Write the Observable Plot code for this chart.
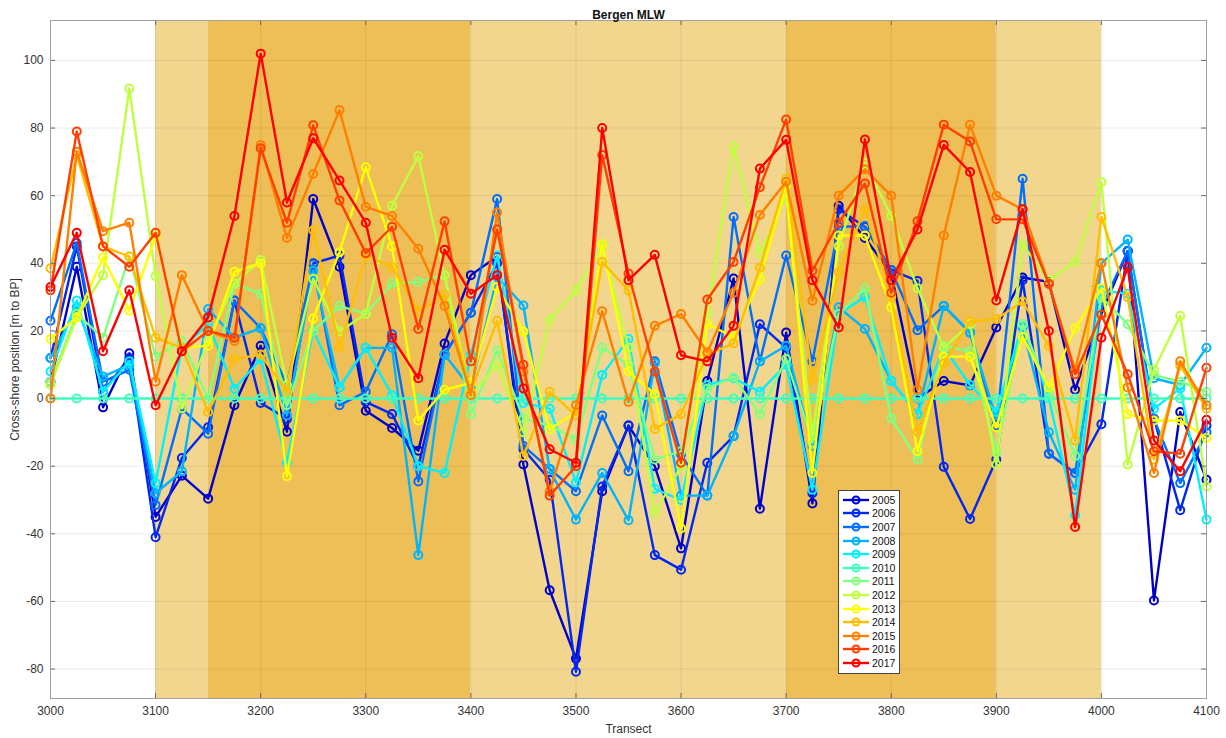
<!DOCTYPE html>
<html><head><meta charset="utf-8">
<script src="https://cdn.jsdelivr.net/npm/d3@7"></script>
<script src="https://cdn.jsdelivr.net/npm/@observablehq/plot@0.6"></script>
<style>
body{margin:0;background:#fff;font-family:"Liberation Sans",Arial,sans-serif;}
#wrap{position:relative;width:1226px;height:738px;}
#legend{position:absolute;left:838px;top:490px;width:62px;height:184px;background:#fff;border:1px solid #444;box-sizing:border-box;padding-top:2px;}
#legend .row{display:flex;align-items:center;height:13.6px;font-size:10.5px;color:#111;}
#legend svg{margin-left:3px;margin-right:2px;}
</style></head><body><div id="wrap"></div>
<script>
const transects = [3000,3025,3050,3075,3100,3125,3150,3175,3200,3225,3250,3275,3300,3325,3350,3375,3400,3425,3450,3475,3500,3525,3550,3575,3600,3625,3650,3675,3700,3725,3750,3775,3800,3825,3850,3875,3900,3925,3950,3975,4000,4025,4050,4075,4100];
const years = ["2005","2006","2007","2008","2009","2010","2011","2012","2013","2014","2015","2016","2017"];
const colors = ["rgb(0,0,205)","rgb(0,40,240)","rgb(0,110,255)","rgb(0,180,255)","rgb(0,240,255)","rgb(64,255,190)","rgb(128,255,128)","rgb(190,255,64)","rgb(255,255,0)","rgb(255,191,0)","rgb(255,128,0)","rgb(255,64,0)","rgb(255,0,0)"];

const y2005 = [5,39,-2.6,13.4,-35,-22.8,-29.6,-2,15.6,-9.8,59,39,-3.6,-8.7,-15.4,16.3,36.5,42,-19.5,-56.7,-76.9,-27.4,-8,-20,-44.3,5.2,35.5,-32.6,19.5,-31,57,47.5,37,0,5.2,3.9,21,35.8,34.5,2.6,25,43.6,-59.7,-4,-24];
const y2006 = [12,45,2,12,-41,-17.6,-8.5,29,-1.3,-6,40,42.3,-1,-4.6,-20,13,25.4,40,-15,-24,-80.8,-26,-8,-46.3,-50.6,-19,-11.1,22,15,-28,56,50.8,38,34.8,-20.2,-35.6,-18,35,-16.3,-22,-7.6,43.6,-6,-33,-8];
const y2007 = [23,46,5,8.5,-31.5,-3,-10.4,28.9,20.8,4,39.7,-2,2,19,-24.5,13,25.4,59,-14,-20.8,-27.4,-5,-21.5,11,-16.5,-28.7,53.7,11,42.3,11,50.8,51,38,20.2,27.4,19.5,-8,65,-16.3,-22,27,43.6,-6,-25,-10];
const y2008 = [12,27,6.5,10,-28,-21.5,26.5,18,20.8,-5,37.8,3.3,15,15,-46.3,13,3,36,27.5,-21,-35.8,-22,-36,10.5,-28.7,-28.7,-11.1,11,15.6,-14,27,20.6,5.2,-4.6,27.4,19.5,-6,21,-10,-27,40,47,6,4,15];
const y2009 = [8,29,2,11,-25,15,22,2.9,11.7,-19,20.2,3.3,15,1,-20,-22,13,42.3,-1.3,-3,-24.8,7,17.6,-26.7,-30,4,6,2,10,-27,25,30,5.2,-4.6,15,4,-4,22,0,-34.5,32,31,-3,3,-35.8];
const y2010 = [0,0,0,0,0,0,0,0,0,0,0,0,0,0,0,0,0,0,0,0,0,0,0,0,0,0,0,0,0,0,0,0,0,0,0,0,0,0,0,0,0,0,0,0,0];
const y2011 = [5,25,18,42,12.4,17,0,33.9,31,-2,20,27.4,25,34,34.5,36.5,-4.6,14.3,-5.9,-8,-12,15,10,-18,-15.6,3,6.3,-4.6,11.7,-13,25,32.6,-5.9,-18,15.6,14,-16,22,2,-17,30,22,7,5,2];
const y2012 = [4,24,36.5,91.7,36.2,-2.9,17,34,41,4,35.4,19.8,25,57,71.7,36.5,1,10,-10,23.3,32,45,15,-34,-20,25,74.5,43,60,-11,45,69.7,54,32.6,15,22,-19.5,45.6,35,40.4,64,-19.5,8.5,24.5,-26];
const y2013 = [17.6,24,41.7,26,48,15,15.6,37.5,40,-23,23.7,43.3,68.4,45,-6.5,2.6,4.6,33,19.8,-9.1,-4,45.6,8,1.3,-38.4,22,18.2,35.2,63,-22,48.2,48.2,27,-15.6,12.4,12.4,-8.5,18.2,3.3,20.8,32.6,-4.6,-6.5,-6.5,-11.7];
const y2014 = [38.5,72,45,42,18,15,-4,11.7,13,2,49.8,15,42.3,39,25.8,30.6,2,23,-17,2,-5,40.4,32,-9,-4.6,13,16.3,38.7,65,5.5,37.4,56,30,-9.8,10.4,22.8,23.5,28.7,15.6,-12.4,53.7,30,-18,9.8,-3];
const y2015 = [0,73,49.5,52,5,36.5,20,17,75,47.5,66.4,85.3,56.7,54,44.3,27.4,1,55,8,-27.4,-2,25.8,-1,21.5,25,13.7,31.3,54.3,64.1,28.9,60,67.8,60,2.6,48.2,81,60,56,34,8.5,40,3.3,-22,11,-2];
const y2016 = [32,79,45,39,49,14,20,18,74,52,80.8,58.6,43,50.8,20.6,52.4,11,50,10,-28.7,-20,72,37,8,-19,29.3,40.4,62.5,82.5,37.8,52,63.6,31.3,52.4,81,76,53,53,33.9,7.2,24.8,7.2,-15.6,-16.3,9.1];
const y2017 = [33,49,14,32,-2,14,24,54,102,58,77,64.5,52,18,6,44,31,36.5,3,-15,-19,80,35,42.5,12.8,11,21.5,68,76.5,35,21,76.6,35,50,75,67,29,56,20,-38,18,38.8,-12.4,-21.5,-6.3];
const seriesValues = [y2005,y2006,y2007,y2008,y2009,y2010,y2011,y2012,y2013,y2014,y2015,y2016,y2017];

const bandStart = [3100,3150,3400,3700,3900];
const bandEnd   = [3150,3400,3700,3900,4000];
const bandShade = ["light","dark","light","dark","light"];
const xTicks = [3000,3100,3200,3300,3400,3500,3600,3700,3800,3900,4000,4100];
const yTicks = [-80,-60,-40,-20,0,20,40,60,80,100];
const yDomain = [-88.7,111.8];
const xDomain = [3000,4100];

const bands = bandStart.map((s,i)=>({start:s,end:bandEnd[i],shade:bandShade[i]}));
const shadeColor = {light:"#F3D68E", dark:"#EEBF56"};

const seriesMarks = [];
years.forEach((yr,k)=>{
  const rows = transects.map((t,i)=>({t, v:seriesValues[k][i], year:yr}));
  seriesMarks.push(Plot.line(rows,{x:"t",y:"v",stroke:colors[k],strokeWidth:2.4}));
  seriesMarks.push(Plot.dot(rows,{x:"t",y:"v",stroke:colors[k],fill:"none",r:4,strokeWidth:2}));
});

const tickLenY = (yDomain[1]-yDomain[0])*5/678;
const tickLenX = (xDomain[1]-xDomain[0])*5/1156;
const fmt = d => String(d);

const chart = Plot.plot({
  width:1226, height:738,
  marginLeft:50, marginRight:20, marginTop:20, marginBottom:40,
  x:{domain:xDomain},
  y:{domain:yDomain},
  style:{fontFamily:"'Liberation Sans', Arial, sans-serif", fontSize:"12px", color:"#333", background:"white"},
  marks:[
    Plot.rect(bands,{x1:"start",x2:"end",fill:d=>shadeColor[d.shade]}),
    Plot.gridX(xTicks,{stroke:"#000",strokeOpacity:0.08}),
    Plot.gridY(yTicks,{stroke:"#000",strokeOpacity:0.08}),
    ...seriesMarks,
    Plot.ruleX(xTicks,{y1:yDomain[0],y2:yDomain[0]+tickLenY,stroke:"#666"}),
    Plot.ruleX(xTicks,{y1:yDomain[1],y2:yDomain[1]-tickLenY,stroke:"#666"}),
    Plot.ruleY(yTicks,{x1:xDomain[0],x2:xDomain[0]+tickLenX,stroke:"#666"}),
    Plot.ruleY(yTicks,{x1:xDomain[1],x2:xDomain[1]-tickLenX,stroke:"#666"}),
    Plot.frame({stroke:"#a0a0a0"}),
    Plot.axisX(xTicks,{tickSize:0,tickPadding:8,tickFormat:fmt,label:"Transect",labelAnchor:"center",labelArrow:"none",labelOffset:34,fontSize:12}),
    Plot.axisY(yTicks,{tickSize:0,tickPadding:7,tickFormat:fmt,label:"Cross-shore position [m to BP]",labelAnchor:"center",labelArrow:"none",labelOffset:40,fontSize:12}),
    Plot.text(["Bergen MLW"],{frameAnchor:"top",dy:-10,fontWeight:"bold",fontSize:12,fill:"#111"})
  ]
});
const wrap = document.getElementById("wrap");
wrap.appendChild(chart);

const legend = document.createElement("div");
legend.id = "legend";
years.forEach((yr,k)=>{
  const row = document.createElement("div");
  row.className = "row";
  row.innerHTML = `<svg width="28" height="10"><line x1="1" y1="5" x2="27" y2="5" stroke="${colors[k]}" stroke-width="2.4"/><circle cx="14" cy="5" r="3.5" fill="none" stroke="${colors[k]}" stroke-width="2"/></svg><span>${yr}</span>`;
  legend.appendChild(row);
});
wrap.appendChild(legend);
</script>
</body></html>
